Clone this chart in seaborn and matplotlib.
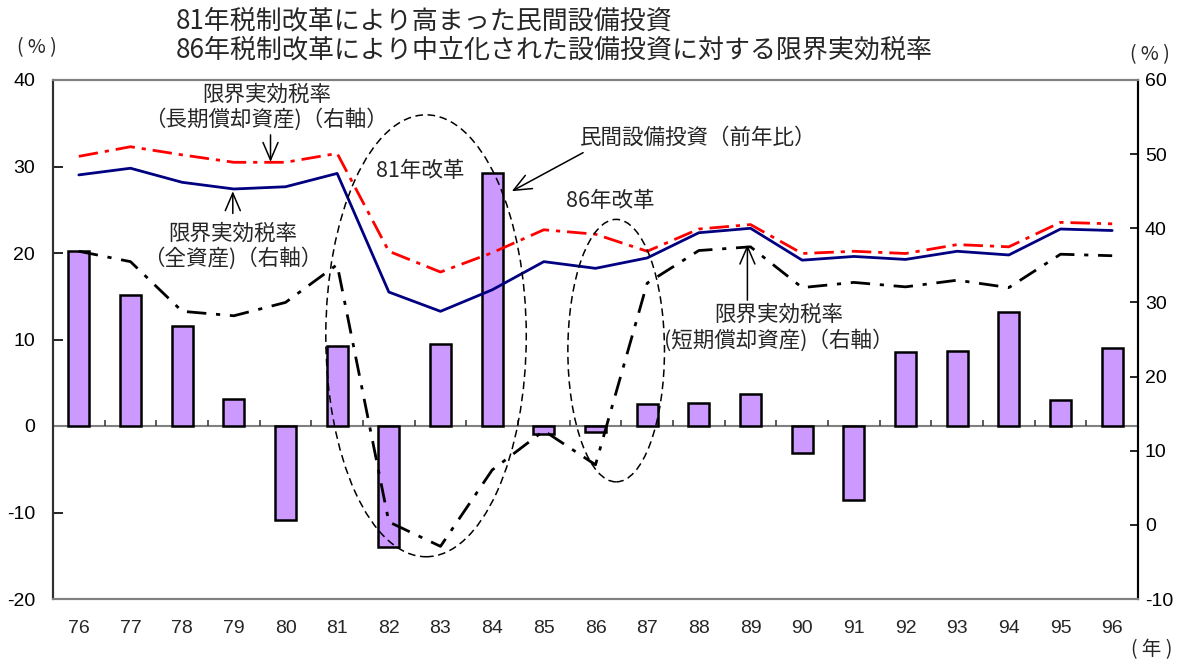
import numpy as np
import pandas as pd
import matplotlib
matplotlib.use("Agg")
import matplotlib.pyplot as plt
from matplotlib.patches import Ellipse
import seaborn as sns

# ---- data -------------------------------------------------------------
years = ["76", "77", "78", "79", "80", "81", "82", "83", "84", "85", "86",
         "87", "88", "89", "90", "91", "92", "93", "94", "95", "96"]
# private capital investment, year-on-year change (%), left axis
capex_growth = [20.2, 15.1, 11.6, 3.1, -10.9, 9.2, -14.0, 9.5, 29.3, -0.9, -0.7,
                2.5, 2.7, 3.7, -3.1, -8.6, 8.5, 8.7, 13.2, 3.0, 9.0]
# marginal effective tax rates (%), right axis
metr_all = [47.2, 48.1, 46.2, 45.3, 45.6, 47.4, 31.4, 28.8, 31.7, 35.5, 34.6,
            36.0, 39.4, 40.0, 35.7, 36.2, 35.8, 36.9, 36.4, 39.9, 39.7]
metr_long = [49.7, 51.0, 49.9, 48.9, 48.9, 50.1, 36.9, 34.1, 36.7, 39.8, 39.2,
             36.9, 39.9, 40.5, 36.6, 36.9, 36.6, 37.8, 37.5, 40.8, 40.6]
metr_short = [36.9, 35.5, 28.8, 28.2, 30.0, 35.1, 0.4, -2.9, 7.4, 12.7, 8.1,
              32.6, 37.0, 37.5, 32.0, 32.7, 32.1, 33.0, 32.0, 36.5, 36.3]
left_ticks = [-20, -10, 0, 10, 20, 30, 40]
right_ticks = [-10, 0, 10, 20, 30, 40, 50, 60]

title_lines = ["81年税制改革により高まった民間設備投資",
               "86年税制改革により中立化された設備投資に対する限界実効税率"]

# ---- style ------------------------------------------------------------
sns.set_style("white")
plt.rcParams["font.family"] = ["Noto Sans CJK JP", "DejaVu Sans"]
plt.rcParams["axes.unicode_minus"] = False
NUM_FONT = ["Liberation Sans", "DejaVu Sans"]

W, H = 1191, 659
fig = plt.figure(figsize=(W / 100, H / 100), dpi=100)
ax = fig.add_axes([53 / W, (H - 599) / H, (1138 - 53) / W, (599 - 80) / H])

df = pd.DataFrame({"year": years, "capex": capex_growth,
                   "pos": np.arange(len(years)),
                   "all": metr_all, "long": metr_long, "short": metr_short})

# bars: capital investment growth
sns.barplot(data=df, x="year", y="capex", color="#CC99FF", saturation=1,
            edgecolor="black", linewidth=1.8, width=0.41, ax=ax, zorder=2)
ax.set_xlim(-0.5, len(years) - 0.5)
ax.set_ylim(left_ticks[0], left_ticks[-1])
ax.set_yticks(left_ticks)
ax.set_xticks(df["pos"])
ax.set_xticklabels(years, fontfamily=NUM_FONT)
ax.set_xlabel("")
ax.set_ylabel("")

# category axis crossing at zero with tick marks between categories
ax.axhline(0, color="#808080", lw=1.5, zorder=1)
ax.vlines(df["pos"][:-1] + 0.5, 0, 0.7, color="#404040", lw=1.2, zorder=1)

ax.tick_params(axis="x", length=0, pad=15, labelsize=14)
ax.tick_params(axis="y", direction="in", length=7, width=1.2, pad=13,
               labelsize=14, colors="black")
for t in ax.get_yticklabels():
    t.set_fontfamily(NUM_FONT)

# lines: marginal effective tax rates on the right axis
ax2 = ax.twinx()
sns.lineplot(data=df, x="pos", y="all", ax=ax2, color="#000080", lw=2)
sns.lineplot(data=df, x="pos", y="long", ax=ax2, color="#FF0000", lw=2,
             linestyle=(0, (7, 2.5, 1.5, 2.5)))
sns.lineplot(data=df, x="pos", y="short", ax=ax2, color="black", lw=2,
             linestyle=(0, (7, 3.5, 1.5, 3.5)))
ax2.set_ylim(right_ticks[0], right_ticks[-1])
ax2.set_yticks(right_ticks)
ax2.set_yticklabels([str(v) for v in right_ticks], fontfamily=NUM_FONT)
ax2.set_xlabel("")
ax2.set_ylabel("")
ax2.tick_params(axis="y", direction="in", length=6, width=1.2, pad=5,
                labelsize=14, colors="black")

# frame
for a in (ax, ax2):
    a.spines["top"].set_color("#808080")
    a.spines["bottom"].set_color("#808080")
    a.spines["left"].set_color("#303030")
    a.spines["right"].set_color("black")
    for s in a.spines.values():
        s.set_linewidth(1.5)

# reform periods circled
dash = (0, (5, 3))
ax2.add_patch(Ellipse((6.72, 25.5), 3.88, 59.6, fill=False, ec="black",
                      lw=1.1, ls=dash, zorder=5))
ax2.add_patch(Ellipse((10.40, 23.5), 1.87, 35.4, fill=False, ec="black",
                      lw=1.1, ls=dash, zorder=5))

# annotations
LBL = 15.5
arrow = dict(arrowstyle="->,head_length=0.7,head_width=0.3", color="black",
             lw=1.1, shrinkA=0, shrinkB=0, mutation_scale=18)
ax2.text(3.63, 56.3, "限界実効税率\n（長期償却資産)（右軸）", ha="center",
         va="center", fontsize=LBL, linespacing=1.15)
ax2.annotate("", xy=(3.71, 48.95), xytext=(3.71, 52.6), arrowprops=arrow)

ax2.text(2.98, 37.6, "限界実効税率\n（全資産)（右軸）", ha="center",
         va="center", fontsize=LBL, linespacing=1.15)
ax2.annotate("", xy=(2.98, 45.0), xytext=(2.98, 42.0), arrowprops=arrow)

ax2.text(6.61, 47.7, "81年改革", ha="center", va="center", fontsize=LBL)
ax2.text(10.28, 43.7, "86年改革", ha="center", va="center", fontsize=LBL)

ax2.text(9.70, 52.2, "民間設備投資（前年比）", ha="left", va="center",
         fontsize=LBL)
ax2.annotate("", xy=(8.38, 45.0), xytext=(9.76, 50.2), arrowprops=arrow)

ax2.text(13.54, 26.6, "限界実効税率\n(短期償却資産)（右軸）", ha="center",
         va="center", fontsize=LBL, linespacing=1.15)
ax2.annotate("", xy=(12.94, 37.8), xytext=(12.94, 30.3), arrowprops=arrow)

# titles and unit labels
fig.text(176 / W, 1 - 21 / H, title_lines[0], ha="left", va="center",
         fontsize=18.7)
fig.text(176 / W, 1 - 50 / H, title_lines[1], ha="left", va="center",
         fontsize=18.7)
fig.text(37 / W, 1 - 48 / H, "( % )", ha="center", va="center", fontsize=14)
fig.text(1150 / W, 1 - 55 / H, "( % )", ha="center", va="center", fontsize=14)
fig.text(1152 / W, 1 - 650 / H, "( 年 )", ha="center", va="center",
         fontsize=14)

fig.savefig("out.png", dpi=100, facecolor="white")
